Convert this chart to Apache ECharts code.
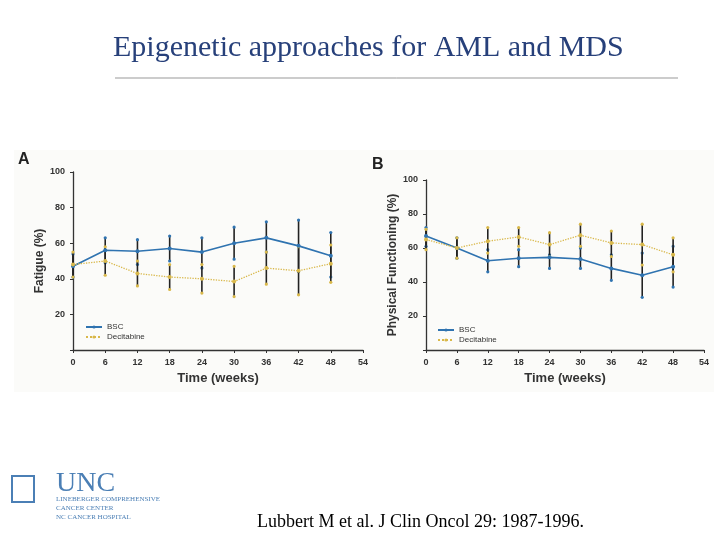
<!DOCTYPE html><html><head><meta charset="utf-8">
<script src="https://cdn.jsdelivr.net/npm/echarts@6/dist/echarts.min.js"></script>
<style>html,body{margin:0;padding:0;background:#fff}#c{width:720px;height:540px}</style></head><body><div id="c"></div>
<script>
const weeks=[0,6,12,18,24,30,36,42,48];
const xTicks=[0,6,12,18,24,30,36,42,48,54];
const yTicks=[20,40,60,80,100];
const fatBSC=[47,56,55.5,57,55,60,63,58.5,53];
const fatBSCLo=[41,49,48,50,46,51,55,44,41];
const fatBSCHi=[54,63,62,64,63,69,72,73,66];
const fatDec=[48,50,43,41,40,38.5,46,44.5,48.5];
const fatDecLo=[41,42,36,34,32,30,37,31,38];
const fatDecHi=[55,58,50,48,48,47,55,58,59];
const pfBSC=[67,60,52.5,54,54.5,53.5,48,44,49];
const pfBSCLo=[61,54,46,49,48,48,41,31,37];
const pfBSCHi=[72,66,59,59,56,60,56,57,61];
const pfDec=[65,60,64,66.5,62,67.5,63,62,56];
const pfDecLo=[59,54,57,61,55,61,55,50,46];
const pfDecHi=[71,66,72,72,69,74,70,74,66];

const BLUE='#2f73b0', GOLD='#d9b84a';
const chart=echarts.init(document.getElementById('c'));
function pts(v){return weeks.map((w,i)=>[w,v[i]]);}
function err(lo,hi){return weeks.map((w,i)=>[w,lo[i],hi[i]]);}
function errSeries(lo,hi,gi,col){return {type:'custom',xAxisIndex:gi,yAxisIndex:gi,silent:true,z:1,
 renderItem:(p,api)=>{const a=api.coord([api.value(0),api.value(1)]),b=api.coord([api.value(0),api.value(2)]);
 return {type:'group',children:[
  {type:'line',shape:{x1:a[0],y1:a[1],x2:b[0],y2:b[1]},style:{stroke:'#222',lineWidth:1.6}},
  {type:'circle',shape:{cx:a[0],cy:a[1],r:1.6},style:{fill:col}},
  {type:'circle',shape:{cx:b[0],cy:b[1],r:1.6},style:{fill:col}}]};},
 data:err(lo,hi)};}
function lineS(name,v,gi,col,dash){return {name,type:'line',xAxisIndex:gi,yAxisIndex:gi,data:pts(v),symbol:'circle',symbolSize:4,z:3,
 itemStyle:{color:col},lineStyle:{color:col,width:dash?1.3:1.6,type:dash?'dotted':'solid'}};}
const axX=(gi)=>({type:'value',gridIndex:gi,min:0,max:54,interval:6,
 name:'Time (weeks)',nameLocation:'middle',nameGap:22,nameTextStyle:{fontSize:13,color:'#333',fontFamily:'Liberation Sans',fontWeight:'bold'},
 axisLine:{lineStyle:{color:'#333',width:1.3}},axisTick:{show:true,length:3,lineStyle:{color:'#333'}},
 axisLabel:{fontSize:9,color:'#333',fontFamily:'Liberation Sans',fontWeight:'bold',margin:8},splitLine:{show:false}});
const axY=(gi,name)=>({type:'value',gridIndex:gi,min:0,max:100,interval:20,
 name,nameLocation:'middle',nameGap:26,nameTextStyle:{fontSize:12,color:'#333',fontFamily:'Liberation Sans',fontWeight:'bold'},
 axisLine:{show:true,lineStyle:{color:'#333',width:1.3}},axisTick:{show:true,length:3,lineStyle:{color:'#333'}},
 axisLabel:{fontSize:9,color:'#333',fontFamily:'Liberation Sans',fontWeight:'bold',formatter:v=>v===0?'':v},splitLine:{show:false}});
chart.setOption({
 backgroundColor:'#fff',animation:false,
 grid:[{left:73,right:357,top:172,bottom:190},{left:426,right:16,top:180,bottom:190}],
 xAxis:[axX(0),axX(1)],
 yAxis:[axY(0,'Fatigue (%)'),axY(1,'Physical Functioning (%)')],
 legend:[
  {data:['BSC','Decitabine'],orient:'vertical',left:80,top:318,itemWidth:16,itemHeight:4,itemGap:2,textStyle:{fontSize:8,color:'#333',fontFamily:'Liberation Sans'}},
  {data:['BSC ','Decitabine '],orient:'vertical',left:432,top:321,itemWidth:16,itemHeight:4,itemGap:2,textStyle:{fontSize:8,color:'#333',fontFamily:'Liberation Sans'}}],
 series:[
  errSeries(fatBSCLo,fatBSCHi,0,BLUE),errSeries(fatDecLo,fatDecHi,0,GOLD),
  lineS('BSC',fatBSC,0,BLUE,false),lineS('Decitabine',fatDec,0,GOLD,true),
  errSeries(pfBSCLo,pfBSCHi,1,BLUE),errSeries(pfDecLo,pfDecHi,1,GOLD),
  lineS('BSC ',pfBSC,1,BLUE,false),lineS('Decitabine ',pfDec,1,GOLD,true)],
 graphic:[
  {type:'rect',z:-10,shape:{x:14,y:150,width:700,height:242},style:{fill:'#fbfbf9'}},
  {type:'text',left:113,top:33,style:{text:'Epigenetic approaches for AML and MDS',font:'30px "Liberation Serif"',fill:'#27407a'}},
  {type:'line',shape:{x1:115,y1:78,x2:678,y2:78},style:{stroke:'#999',lineWidth:1}},
  {type:'text',left:18,top:152,style:{text:'A',font:'bold 16px "Liberation Sans"',fill:'#222'}},
  {type:'text',left:372,top:157,style:{text:'B',font:'bold 16px "Liberation Sans"',fill:'#222'}},
  {type:'text',left:257,top:513,style:{text:'Lubbert M et al. J Clin Oncol 29: 1987-1996.',font:'18px "Liberation Serif"',fill:'#000'}},
  {type:'rect',shape:{x:12,y:476,width:22,height:26},style:{fill:'none',stroke:'#4b7fb5',lineWidth:2}},
  {type:'text',left:56,top:470,style:{text:'UNC',font:'28px "Liberation Serif"',fill:'#4b7fb5'}},
  {type:'text',left:56,top:495,style:{text:'LINEBERGER COMPREHENSIVE\nCANCER CENTER\nNC CANCER HOSPITAL',font:'7px "Liberation Serif"',fill:'#4b7fb5',lineHeight:9}}
 ]
});
</script></body></html>
